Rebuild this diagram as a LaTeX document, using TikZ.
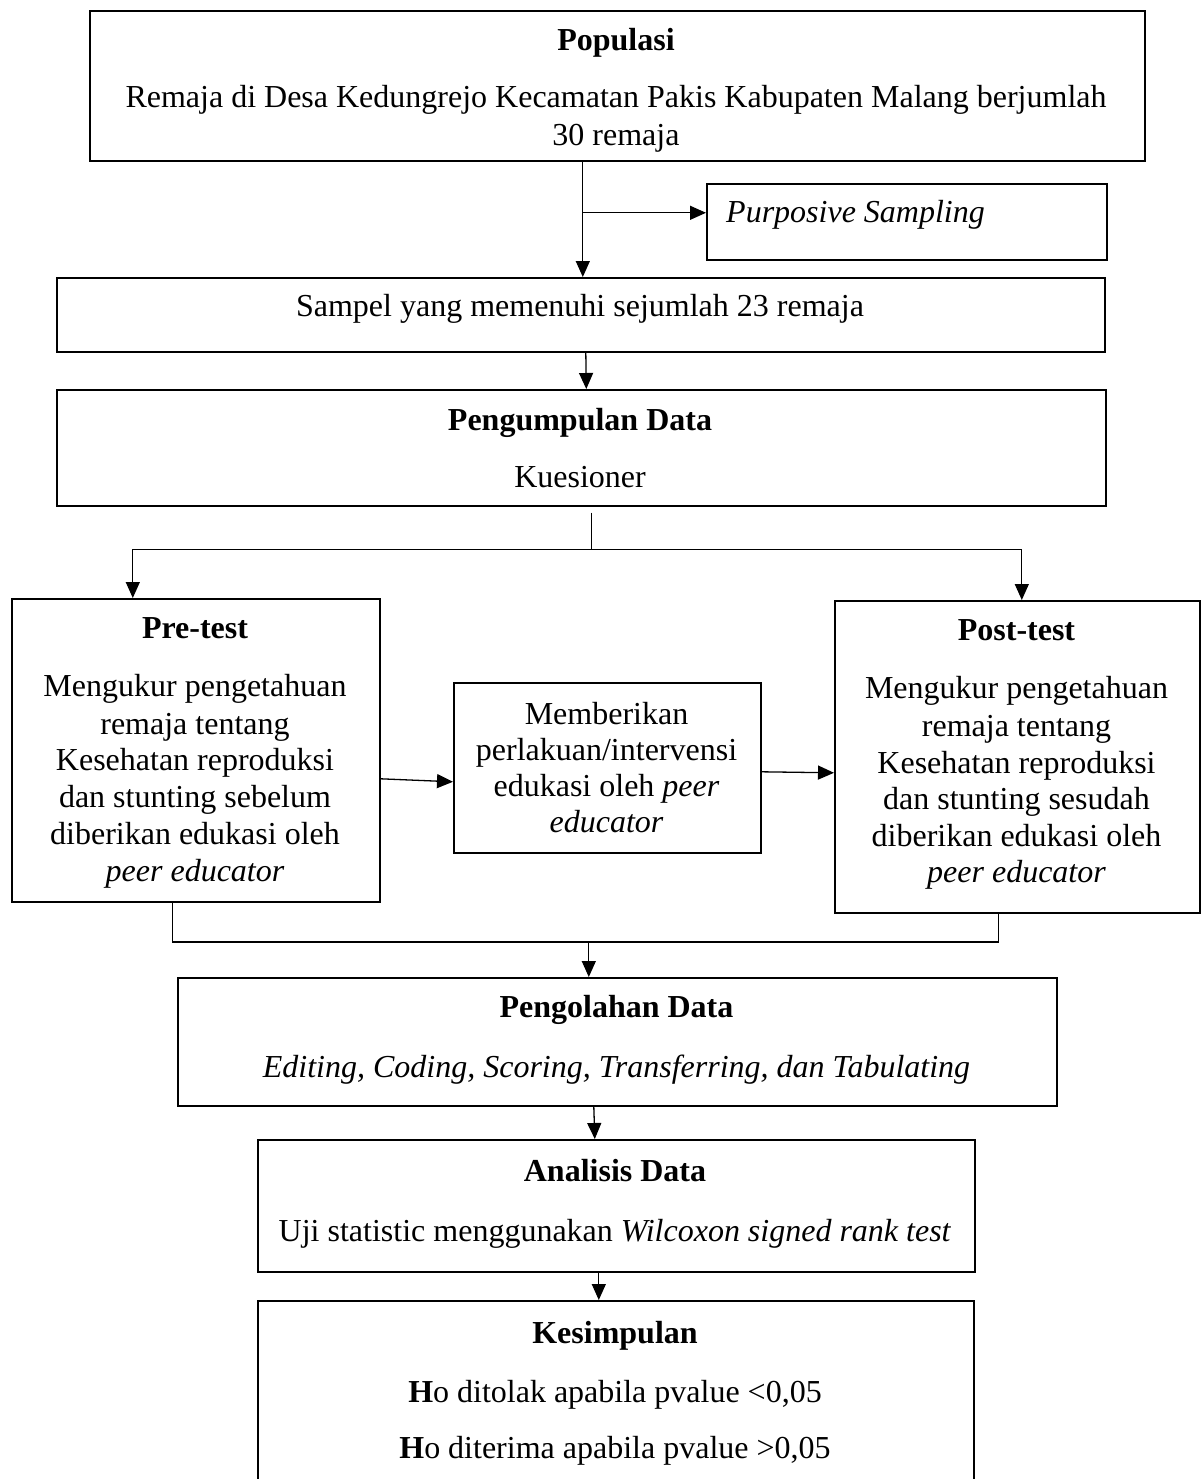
\documentclass[tikz,border=0pt]{standalone}
\usepackage{fontspec}
\setmainfont{Liberation Serif}
\usetikzlibrary{arrows.meta}
\begin{document}
\begin{tikzpicture}[x=1pt,y=-1pt,
 box/.style={draw,line width=1.6pt,inner sep=0pt,anchor=north west},
 txt/.style={anchor=base,inner sep=0pt,font=\fontsize{32}{36}\selectfont},
 ttl/.style={anchor=base,inner sep=0pt,font=\fontsize{32}{36}\selectfont\bfseries},
 conn/.style={line width=1.3pt},
 arr/.style={conn,-{Triangle[length=16pt,width=14pt]}}]
\useasboundingbox (0,0) rectangle (1201,1479);
% boxes
\node[box,minimum width=1055pt,minimum height=150pt] (pop) at (89,10) {};
\node[box,minimum width=400pt,minimum height=76pt] (purp) at (706,183) {};
\node[box,minimum width=1048pt,minimum height=74pt] (samp) at (56,277) {};
\node[box,minimum width=1049pt,minimum height=116pt] (peng) at (56,389) {};
\node[box,minimum width=368pt,minimum height=303pt] (pre) at (11,598) {};
\node[box,minimum width=307pt,minimum height=170pt] (mid) at (453,682) {};
\node[box,minimum width=365pt,minimum height=312pt] (post) at (834,600) {};
\node[box,minimum width=879pt,minimum height=128pt] (olah) at (177,977) {};
\node[box,minimum width=717pt,minimum height=132pt] (anal) at (257,1139) {};
\node[box,minimum width=716pt,minimum height=220pt] (kes) at (257,1300) {};
% texts
\node[ttl] (t1) at (616,51) {Populasi};
\node[txt] (t2) at (616,108) {Remaja di Desa Kedungrejo Kecamatan Pakis Kabupaten Malang berjumlah};
\node[txt] (t3) at (616,146) {30 remaja};
\node[txt,anchor=base west] (t4) at (726,223) {\itshape Purposive Sampling};
\node[txt] (t5) at (580,316) {Sampel yang memenuhi sejumlah 23 remaja};
\node[ttl] (t6) at (580,430) {Pengumpulan Data};
\node[txt] (t7) at (580,487) {Kuesioner};
% pre
\node[ttl] (p0) at (195,638) {Pre-test};
\node[txt] (p1) at (195,696) {Mengukur pengetahuan};
\node[txt] (p2) at (195,734) {remaja tentang};
\node[txt] (p3) at (195,770) {Kesehatan reproduksi};
\node[txt] (p4) at (195,807) {dan stunting sebelum};
\node[txt] (p5) at (195,844) {diberikan edukasi oleh};
\node[txt] (p6) at (195,881) {\itshape peer educator};
% mid
\node[txt] (m1) at (606.5,724) {Memberikan};
\node[txt] (m2) at (606.5,760) {perlakuan/intervensi};
\node[txt] (m3) at (606.5,796) {edukasi oleh \textit{peer}};
\node[txt] (m4) at (606.5,832) {\itshape educator};
% post
\node[ttl] (q0) at (1016.5,640) {Post-test};
\node[txt] (q1) at (1016.5,698) {Mengukur pengetahuan};
\node[txt] (q2) at (1016.5,736) {remaja tentang};
\node[txt] (q3) at (1016.5,773) {Kesehatan reproduksi};
\node[txt] (q4) at (1016.5,809) {dan stunting sesudah};
\node[txt] (q5) at (1016.5,846) {diberikan edukasi oleh};
\node[txt] (q6) at (1016.5,882) {\itshape peer educator};
% lower
\node[ttl] (o1) at (616.5,1017) {Pengolahan Data};
\node[txt] (o2) at (616.5,1077) {\itshape Editing, Coding, Scoring, Transferring, dan Tabulating};
\node[ttl] (a1) at (615,1181) {Analisis Data};
\node[txt] (a2) at (615,1241) {Uji statistic menggunakan \textit{Wilcoxon signed rank test}};
\node[ttl] (k1) at (615,1343) {Kesimpulan};
\node[txt] (k2) at (615,1402) {\textbf{H}o ditolak apabila pvalue <0,05};
\node[txt] (k3) at (615,1458) {\textbf{H}o diterima apabila pvalue >0,05};
% connectors
\coordinate (a) at ([xshift=-34.5pt]pop.south);
\draw[arr] (a) -- (a |- samp.north);
\coordinate (pw) at ([yshift=9pt]purp.west);
\draw[arr] (a |- pw) -- (pw);
\draw[arr] ([xshift=5pt]samp.south) -- ([xshift=5pt]peng.north);
\coordinate (b) at ([xshift=10.5pt,yshift=-43pt]peng.south);
\draw[conn,shorten <=6pt] ([xshift=10.5pt]peng.south) -- (b);
\coordinate (pl) at ([xshift=-63pt]pre.north);
\coordinate (pr) at ([xshift=4.5pt]post.north);
\draw[arr] (b) -| (pl);
\draw[arr] (b) -| (pr);
\draw[arr] ([yshift=-28.5pt]pre.east) -- ([yshift=-14pt]mid.west);
\draw[arr] ([yshift=-4pt]mid.east) -- ([yshift=-16pt]post.west);
\coordinate (c) at ([xshift=-28.5pt,yshift=35pt]olah.north);
\draw[conn] ([xshift=-23pt]pre.south) |- (c) -| ([xshift=-18.5pt]post.south);
\draw[arr] (c) -- ([xshift=-28.5pt]olah.north);
\draw[arr] ([xshift=-23.5pt]olah.south) -- ([xshift=-21.5pt]anal.north);
\draw[arr] ([xshift=-17.5pt]anal.south) -- ([xshift=-17pt]kes.north);
\end{tikzpicture}
\end{document}
